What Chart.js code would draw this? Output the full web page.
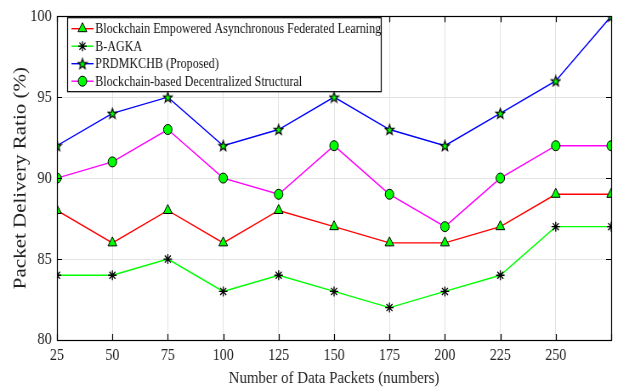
<!DOCTYPE html>
<html>
<head>
<meta charset="utf-8">
<script src="https://cdn.jsdelivr.net/npm/chart.js@4/dist/chart.umd.min.js"></script>
<style>
  html, body { margin: 0; padding: 0; background: #fff; }
  #wrap { width: 622px; height: 389px; overflow: hidden; }
  /* the figure is drawn wide and then narrowed, giving the condensed serif look */
  #c { width: 732px; height: 389px; transform: scaleX(0.85); transform-origin: 0 0; display: block; }
</style>
</head>
<body>
<div id="wrap"><canvas id="c" width="732" height="389" style="width:732px;height:389px"></canvas></div>
<script>
// Number of data packets on the x axis (last one sits on the right edge, unlabeled)
const packets = [25, 50, 75, 100, 125, 150, 175, 200, 225, 250, 275];
const xTickLabels = ['25', '50', '75', '100', '125', '150', '175', '200', '225', '250', ''];
const yTicks = [80, 85, 90, 95, 100];

// Packet delivery ratio (%) per method
const seriesNames = [
  'Blockchain Empowered Asynchronous Federated Learning',
  'B-AGKA',
  'PRDMKCHB (Proposed)',
  'Blockchain-based Decentralized Structural'
];
const asyncFL   = [88, 86, 88, 86, 88, 87, 86, 86, 87, 89, 89];
const bAgka     = [84, 84, 85, 83, 84, 83, 82, 83, 84, 87, 87];
const prdmkchb  = [92, 94, 95, 92, 93, 95, 93, 92, 94, 96, 100];
const decentral = [90, 91, 93, 90, 89, 92, 89, 87, 90, 92, 92];

const FONT = '"Liberation Serif", "Times New Roman", serif';

// Five-pointed star marker, green with black outline
function makePentagram(size) {
  const cv = document.createElement('canvas');
  cv.width = size; cv.height = size;
  const g = cv.getContext('2d');
  const cx = size / 2, cy = size / 2 + 0.5, ro = size / 2 - 1, ri = ro * 0.42;
  g.beginPath();
  for (let i = 0; i < 10; i++) {
    const r = i % 2 === 0 ? ro : ri;
    const a = -Math.PI / 2 + i * Math.PI / 5;
    const px = cx + r * Math.cos(a), py = cy + r * Math.sin(a);
    if (i === 0) g.moveTo(px, py); else g.lineTo(px, py);
  }
  g.closePath();
  g.fillStyle = '#00ff00';
  g.fill();
  g.lineWidth = 1.2;
  g.strokeStyle = '#000';
  g.stroke();
  return cv;
}
const starImg = makePentagram(13);

function pts(arr) { return packets.map((x, i) => ({ x: x, y: arr[i] })); }

const styles = [
  { color: '#ff0000', pointStyle: 'triangle', radius: 6, fill: '#00ff00', border: '#000', bw: 1 },
  { color: '#00ff00', pointStyle: 'star', radius: 5, fill: '#000', border: '#000', bw: 1.3 },
  { color: '#0000ff', pointStyle: starImg, radius: 7, fill: '#00ff00', border: '#000', bw: 1 },
  { color: '#ff00ff', pointStyle: 'circle', radius: 5, fill: '#00ff00', border: '#000', bw: 1 }
];
const values = [asyncFL, bAgka, prdmkchb, decentral];

const datasets = values.map((v, i) => ({
  label: seriesNames[i],
  data: pts(v),
  borderColor: styles[i].color,
  borderWidth: 1.4,
  pointStyle: styles[i].pointStyle,
  pointRadius: styles[i].radius,
  pointHoverRadius: styles[i].radius,
  pointBackgroundColor: styles[i].fill,
  pointBorderColor: styles[i].border,
  pointBorderWidth: styles[i].bw,
  tension: 0,
  fill: false
}));

// Axes box with inward tick marks
const boxPlugin = {
  id: 'boxTicks',
  afterDraw(chart) {
    const { ctx, chartArea: a, scales } = chart;
    ctx.save();
    ctx.strokeStyle = '#000';
    ctx.lineWidth = 1.2;
    const L = 6;
    packets.forEach(v => {
      const x = Math.round(scales.x.getPixelForValue(v)) + 0.5;
      ctx.beginPath();
      ctx.moveTo(x, a.bottom); ctx.lineTo(x, a.bottom - L);
      ctx.moveTo(x, a.top); ctx.lineTo(x, a.top + L);
      ctx.stroke();
    });
    yTicks.forEach(v => {
      const y = Math.round(scales.y.getPixelForValue(v)) + 0.5;
      ctx.beginPath();
      ctx.moveTo(a.left, y); ctx.lineTo(a.left + L, y);
      ctx.moveTo(a.right, y); ctx.lineTo(a.right - L, y);
      ctx.stroke();
    });
    ctx.strokeRect(Math.round(a.left) + 0.5, Math.round(a.top) + 0.5,
                   Math.round(a.right - a.left), Math.round(a.bottom - a.top));
    ctx.restore();
  }
};

// Legend box inside the upper-left corner of the plot
const legendPlugin = {
  id: 'insideLegend',
  afterDraw(chart) {
    const { ctx, chartArea: a } = chart;
    const bx = a.left + 12, by = a.top + 1, bw = 369, bh = 74;
    ctx.save();
    ctx.fillStyle = '#fff';
    ctx.fillRect(bx, by, bw, bh);
    ctx.strokeStyle = '#000';
    ctx.lineWidth = 1.2;
    ctx.strokeRect(bx + 0.5, by + 0.5, bw, bh);
    ctx.font = '14.2px ' + FONT;
    ctx.textBaseline = 'middle';
    const rows = [by + 11.5, by + 29, by + 46.5, by + 64];
    seriesNames.forEach((name, i) => {
      const y = rows[i];
      ctx.strokeStyle = styles[i].color;
      ctx.lineWidth = 1.4;
      ctx.beginPath();
      ctx.moveTo(bx + 5, y); ctx.lineTo(bx + 31, y);
      ctx.stroke();
      ctx.fillStyle = styles[i].fill;
      ctx.strokeStyle = styles[i].border;
      ctx.lineWidth = styles[i].bw;
      Chart.helpers.drawPoint(ctx, {
        pointStyle: styles[i].pointStyle,
        radius: styles[i].radius,
        borderWidth: styles[i].bw,
        rotation: 0
      }, bx + 18, y);
      ctx.fillStyle = '#111';
      ctx.fillText(name, bx + 33, y + 1);
    });
    ctx.restore();
  }
};

new Chart(document.getElementById('c'), {
  type: 'line',
  data: { datasets: datasets },
  options: {
    responsive: false,
    animation: false,
    devicePixelRatio: 1,
    layout: { padding: { top: 16, right: 13, left: 0, bottom: 0 } },
    plugins: { legend: { display: false }, tooltip: { enabled: false } },
    scales: {
      x: {
        type: 'linear',
        min: 25, max: 275,
        afterFit(s) { s.height = 49; },
        ticks: {
          stepSize: 25,
          autoSkip: false,
          color: '#222',
          font: { family: FONT, size: 16.5 },
          padding: 6,
          maxRotation: 0,
          callback(v) { const i = packets.indexOf(v); return i >= 0 ? xTickLabels[i] : ''; }
        },
        grid: { color: '#e3e3e3', lineWidth: 1, drawTicks: false },
        border: { display: false },
        title: {
          display: true,
          text: 'Number of Data Packets (numbers)',
          color: '#222',
          font: { family: FONT, size: 17.5 },
          padding: { top: 0, bottom: 0 }
        }
      },
      y: {
        min: 80, max: 100,
        afterFit(s) { s.width = 67; },
        afterBuildTicks(s) { s.ticks = yTicks.map(v => ({ value: v })); },
        ticks: {
          color: '#222',
          font: { family: FONT, size: 17 },
          padding: 6
        },
        grid: { color: '#e3e3e3', lineWidth: 1, drawTicks: false },
        border: { display: false },
        title: {
          display: true,
          text: 'Packet Delivery Ratio (%)',
          color: '#222',
          font: { family: FONT, size: 21 },
          padding: { top: 12, bottom: 0 }
        }
      }
    }
  },
  plugins: [boxPlugin, legendPlugin]
});
</script>
</body>
</html>
